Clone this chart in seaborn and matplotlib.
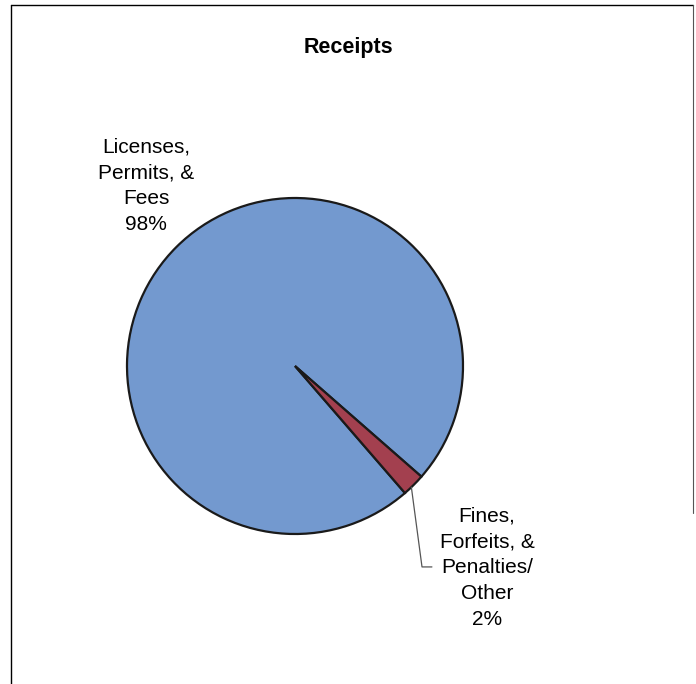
import numpy as np
import matplotlib
matplotlib.use("Agg")
import matplotlib.pyplot as plt
import seaborn as sns

categories = ["Licenses, Permits, & Fees", "Fines, Forfeits, & Penalties/ Other"]
values = [97.8, 2.2]
label_texts = ["Licenses,\nPermits, &\nFees\n98%", "Fines,\nForfeits, &\nPenalties/\nOther\n2%"]
colors = ["#7399CF", "#A3404F"]

sns.set_theme(style="white")
plt.rcParams['font.family'] = ['Liberation Sans', 'DejaVu Sans']

fig = plt.figure(figsize=(6.96, 6.84), dpi=100)
fig.patch.set_facecolor("white")

# figure border
fig.add_artist(plt.Line2D([11/696, 11/696], [0, 1 - 5/684], color="black", lw=1.0, transform=fig.transFigure))
fig.add_artist(plt.Line2D([11/696, 693/696], [1 - 5/684, 1 - 5/684], color="black", lw=1.0, transform=fig.transFigure))
fig.add_artist(plt.Line2D([693/696, 693/696], [1 - 5/684, 0.25], color="#555555", lw=0.8, transform=fig.transFigure))

cx, cy, r = 295, 366, 168
ax = fig.add_axes([(cx - r) / 696, (684 - cy - r) / 684, 2 * r / 696, 2 * r / 684])

wedges, _ = ax.pie(values, colors=colors, startangle=-41.2, counterclock=True,
                   radius=1.0, center=(0, 0),
                   wedgeprops=dict(edgecolor="#1a1a1a", linewidth=1.6))
ax.set_xlim(-1, 1)
ax.set_ylim(-1, 1)
ax.set_aspect("equal")
ax.axis("off")

fig.text(348 / 696, 1 - 47 / 684, "Receipts", ha="center", va="center",
         fontsize=15.5, fontweight="bold", color="black")

# Licenses label
ax.text(-0.887, 1.071, label_texts[0], ha="center", va="center", fontsize=15,
        linespacing=1.45, color="black", clip_on=False)

# Fines label with leader line
w = wedges[1]
mid = np.deg2rad((w.theta1 + w.theta2) / 2 - 1)
x0, y0 = np.cos(mid) * 1.0, np.sin(mid) * 1.0
ax.plot([x0, 0.756, 0.815], [y0, -1.196, -1.196], color="#555555", lw=0.9, clip_on=False)
ax.text(1.143, -1.202, label_texts[1], ha="center", va="center", fontsize=15,
        linespacing=1.45, color="black", clip_on=False)

fig.savefig("out.png", dpi=100, facecolor="white")
